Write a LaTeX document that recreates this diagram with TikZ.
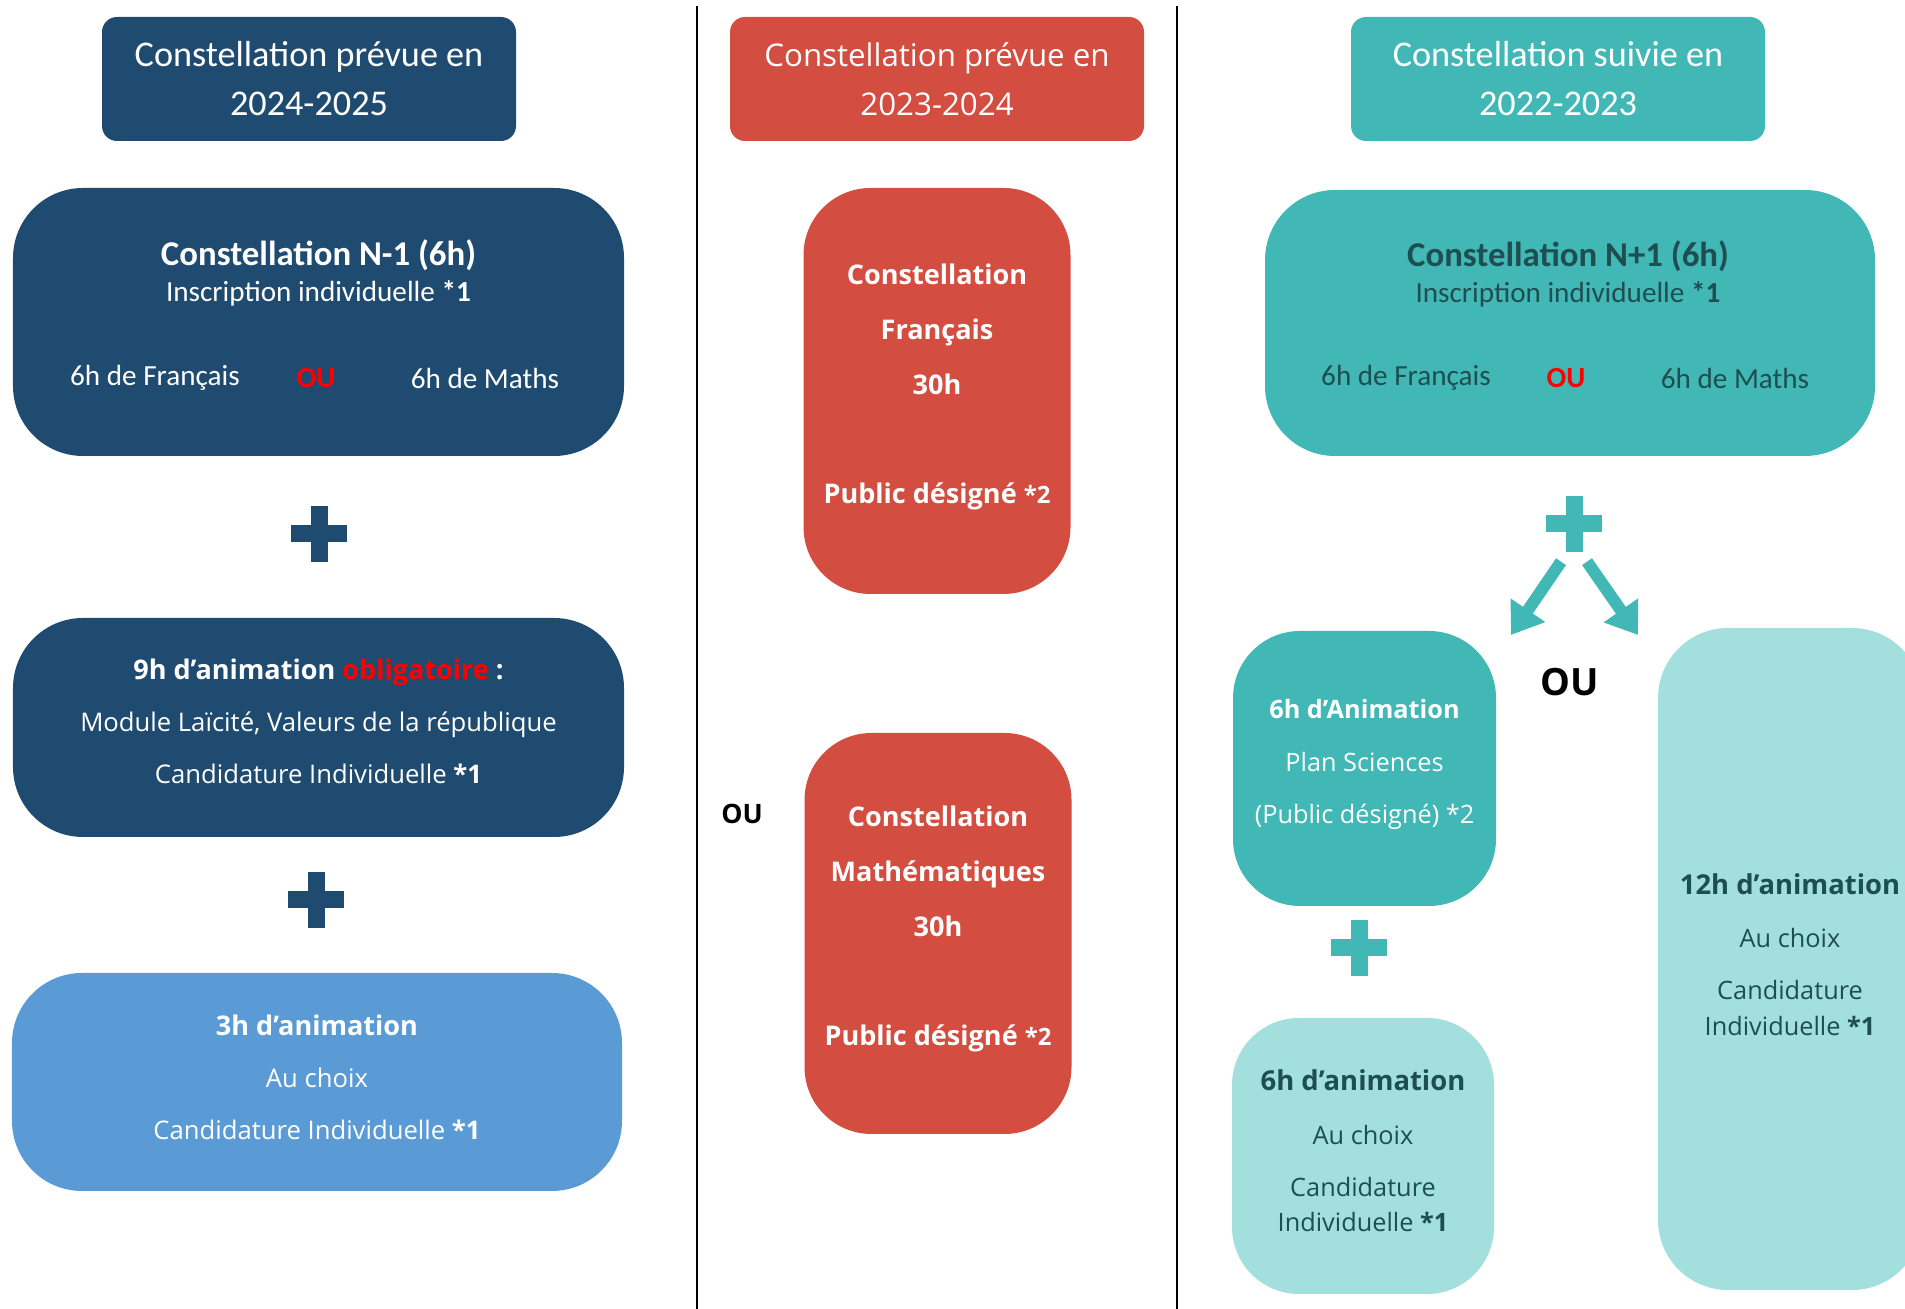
\documentclass[tikz,border=0pt]{standalone}
\usepackage{fontspec}
\setmainfont{Open Sans}
\newfontfamily\calib{Carlito}
\usetikzlibrary{positioning}
\usetikzlibrary{arrows.meta}
\definecolor{navy}{HTML}{1F4B71}
\definecolor{brick}{HTML}{D34D40}
\definecolor{lagoon}{HTML}{41B8B5}
\definecolor{pale}{HTML}{A2DFDD}
\definecolor{sky}{HTML}{5B9BD5}
\definecolor{deep}{HTML}{1E4E50}
\definecolor{alert}{HTML}{FF0000}
\tikzset{
  head/.style={fill=#1, text=white, rounded corners=0.15cm, minimum width=4.14cm, minimum height=1.24cm, align=center, inner sep=0pt},
  bloc/.style={fill=#1, rounded corners=0.7cm, inner sep=0pt, align=center},
  inside/.style={align=center, inner sep=0pt},
  plussign/.style={minimum size=0.56cm, inner sep=0pt, path picture={
    \fill[#1] ([xshift=-0.085cm]path picture bounding box.north) rectangle ([xshift=0.085cm]path picture bounding box.south);
    \fill[#1] ([yshift=-0.085cm]path picture bounding box.west) rectangle ([yshift=0.085cm]path picture bounding box.east);}},
  bigarrow/.style={draw=lagoon, line width=0.12cm, -{Triangle[width=0.4cm,length=0.3cm]}},
  sep/.style={line width=0.7pt, black}
}

\begin{document}
\begin{tikzpicture}
	\useasboundingbox (0,0) rectangle (19.05,-13.09);
	\draw[sep] (6.97,-0.06) -- (6.97,-13.09);
	\draw[sep] (11.77,-0.06) -- (11.77,-13.09);

	% 2024-2025
	\node[head=navy, font=\calib\fontsize{10.3}{13.9}\selectfont] (h1) at (3.09,-0.79) {Constellation prévue en\\2024-2025};
	\node[bloc=navy, minimum width=6.11cm, minimum height=2.68cm] (n1) at (3.185,-3.22) {};
	\begin{scope}[every node/.style={text=white, font=\calib\fontsize{8.3}{10}\selectfont}]
	  \node[font=\calib\bfseries\fontsize{9.9}{12}\selectfont] (n1t) at (3.185,-2.55) {Constellation N-1 (6h)};
	  \node (n1i) at (3.185,-2.93) {Inscription individuelle \textbf{*1}};
	  \node (n1f) at (1.55,-3.78) {6h de Français};
	  \node[text=alert] (n1o) at (3.16,-3.78) {\textbf{OU}};
	  \node (n1m) at (4.85,-3.78) {6h de Maths};
	\end{scope}
	\node[plussign=navy] (p1) at (3.19,-5.34) {};
	\node[bloc=navy, minimum width=6.11cm, minimum height=2.19cm] (b9) at (3.185,-7.275) {};
	\node[inside, text=white, font=\fontsize{7.3}{14.8}\selectfont] (b9t) at ([yshift=0.065cm]b9.center)
	  {{\bfseries\fontsize{7.7}{14.8}\selectfont 9h d’animation \textcolor{alert}{obligatoire} :}\\Module Laïcité, Valeurs de la république\\Candidature Individuelle \textbf{*1}};
	\node[plussign=navy] (p2) at (3.16,-9.00) {};
	\node[bloc=sky, minimum width=6.10cm, minimum height=2.18cm] (b3) at (3.17,-10.82) {};
	\node[inside, text=white, font=\fontsize{7.3}{14.8}\selectfont] (b3t) at ([yshift=0.05cm]b3.center)
	  {{\bfseries\fontsize{7.7}{14.8}\selectfont 3h d’animation}\\Au choix\\Candidature Individuelle \textbf{*1}};

	% 2023-2024
	\node[head=brick, font=\fontsize{8.9}{13.9}\selectfont] (h2) at (9.37,-0.79) {Constellation prévue en\\2023-2024};
	\begin{scope}[every node/.style={bloc=brick, rounded corners=0.67cm, minimum width=2.67cm}]
	  \node[minimum height=4.06cm] (fr) at (9.37,-3.91) {};
	  \node[minimum height=4.01cm] (ma) at (9.38,-9.335) {};
	\end{scope}
	\begin{scope}[every node/.style={inside, text=white, font=\bfseries\fontsize{7.7}{15.6}\selectfont}]
	  \node (frt) at ([yshift=0.04cm]fr.center) {Constellation\\Français\\30h\\[15.6pt]Public désigné {\fontsize{6.8}{8}\selectfont*2}};
	  \node (mat) at ([yshift=0.045cm]ma.center) {Constellation\\Mathématiques\\30h\\[15.6pt]Public désigné {\fontsize{6.8}{8}\selectfont*2}};
	\end{scope}
	\node[font=\bfseries\fontsize{7.6}{9}\selectfont] (ou1) at (7.42,-8.14) {OU};

	% 2022-2023
	\node[head=lagoon, font=\calib\fontsize{10.3}{13.9}\selectfont] (h3) at (15.58,-0.79) {Constellation suivie en\\2022-2023};
	\node[bloc=lagoon, minimum width=6.10cm, minimum height=2.66cm] (n2) at (15.70,-3.23) {};
	\begin{scope}[every node/.style={text=deep, font=\calib\fontsize{8.3}{10}\selectfont}]
	  \node[font=\calib\bfseries\fontsize{9.9}{12}\selectfont] (n2t) at (15.68,-2.56) {Constellation N+1 (6h)};
	  \node (n2i) at (15.68,-2.94) {Inscription individuelle \textbf{*1}};
	  \node (n2f) at (14.06,-3.78) {6h de Français};
	  \node[text=alert] (n2o) at (15.66,-3.78) {\textbf{OU}};
	  \node (n2m) at (17.35,-3.78) {6h de Maths};
	\end{scope}
	\node[plussign=lagoon] (p3) at (15.74,-5.24) {};
	\coordinate (tipl) at (15.11,-6.35);
	\coordinate (tipr) at (16.38,-6.35);
	\draw[bigarrow] ([shift={(-0.13,-0.09)}]p3.south) -- (tipl);
	\draw[bigarrow] ([shift={(0.13,-0.09)}]p3.south) -- (tipr);
	\node[font=\bfseries\fontsize{10.7}{12}\selectfont] (ou2) at (15.70,-6.82) {OU};
	\node[bloc=lagoon, rounded corners=0.67cm, minimum width=2.63cm, minimum height=2.75cm] (a6) at (13.645,-7.685) {};
	\node[inside, text=white, font=\fontsize{7.2}{15}\selectfont] (a6t) at ([yshift=0.04cm]a6.center)
	  {\textbf{6h d’Animation}\\Plan Sciences\\(Public désigné) *2};
	\node[plussign=lagoon] (p4) at (13.59,-9.48) {};
	\node[bloc=pale, rounded corners=0.67cm, minimum width=2.62cm, minimum height=2.76cm] (c6) at (13.63,-11.56) {};
	\node[inside, text=deep, font=\fontsize{7.2}{10.2}\selectfont] (c6t) at ([yshift=0.05cm]c6.center)
	  {{\bfseries\fontsize{7.8}{10.2}\selectfont 6h d’animation}\\[5pt]Au choix\\[4.6pt]Candidature\\Individuelle \textbf{*1}};
	\node[bloc=pale, rounded corners=0.7cm, minimum width=2.64cm, minimum height=6.62cm] (t12) at (17.90,-9.59) {};
	\node[inside, text=deep, font=\fontsize{7.2}{10.2}\selectfont] (t12t) at ([yshift=0.045cm]t12.center)
	  {{\bfseries\fontsize{7.8}{10.2}\selectfont 12h d’animation}\\[5pt]Au choix\\[4.6pt]Candidature\\Individuelle \textbf{*1}};
\end{tikzpicture}
\end{document}
